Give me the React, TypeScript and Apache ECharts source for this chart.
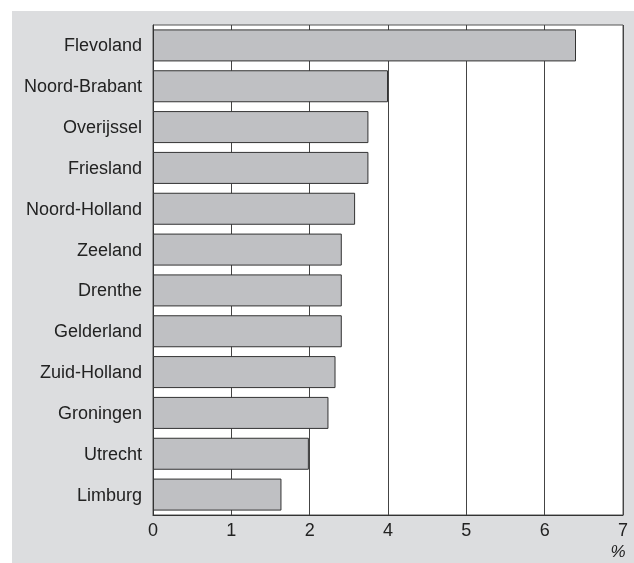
import React, { useEffect, useRef } from "react";
import * as echarts from "echarts";

// Provinces, top to bottom
const provinces = [
  "Flevoland",
  "Noord-Brabant",
  "Overijssel",
  "Friesland",
  "Noord-Holland",
  "Zeeland",
  "Drenthe",
  "Gelderland",
  "Zuid-Holland",
  "Groningen",
  "Utrecht",
  "Limburg",
];

// Bar lengths measured in axis steps (one step between neighbouring tick labels)
const barValues = [5.4, 3.0, 2.75, 2.75, 2.58, 2.41, 2.41, 2.41, 2.33, 2.24, 1.99, 1.64];

// Tick labels as printed on the reference axis (no "3" appears there)
const tickLabels = ["0", "1", "2", "4", "5", "6", "7"];

const unitLabel = "%";

export default function App() {
  const ref = useRef<HTMLDivElement>(null);

  useEffect(() => {
    if (!ref.current) return;
    const chart = echarts.init(ref.current, undefined, { renderer: "svg" });
    const font = "'Liberation Sans', Arial, Helvetica, sans-serif";
    chart.setOption({
      animation: false,
      backgroundColor: "transparent",
      textStyle: { fontFamily: font },
      graphic: [
        {
          type: "rect",
          z: -10,
          silent: true,
          shape: { x: 12, y: 11, width: 622, height: 552 },
          style: { fill: "#dcdddf" },
        },
        {
          type: "text",
          x: 618,
          y: 551,
          style: {
            text: unitLabel,
            fill: "#222",
            font: `italic 17px ${font}`,
            align: "center",
            verticalAlign: "middle",
          },
        },
      ],
      grid: {
        left: 153,
        top: 25,
        width: 470,
        height: 490,
        show: true,
        backgroundColor: "#ffffff",
        borderColor: "#555",
        borderWidth: 1,
      },
      xAxis: {
        type: "value",
        min: 0,
        max: tickLabels.length - 1,
        interval: 1,
        axisLine: { show: true, lineStyle: { color: "#333", width: 1 } },
        axisTick: { show: false },
        splitLine: { show: true, lineStyle: { color: "#444", width: 1 } },
        axisLabel: {
          margin: 6,
          color: "#222",
          fontSize: 18,
          fontFamily: font,
          formatter: (v: number) => tickLabels[Math.round(v)] ?? "",
        },
      },
      yAxis: {
        type: "category",
        data: provinces,
        inverse: true,
        axisLine: { show: true, lineStyle: { color: "#333", width: 1 } },
        axisTick: { show: false },
        axisLabel: {
          margin: 11,
          color: "#222",
          fontSize: 18,
          fontFamily: font,
        },
      },
      series: [
        {
          type: "bar",
          data: barValues,
          barWidth: 32,
          itemStyle: {
            color: "#bfc0c3",
            borderColor: "#333",
            borderWidth: 1,
          },
        },
      ],
    });
    return () => chart.dispose();
  }, []);

  return (
    <div style={{ position: "fixed", left: 0, top: 0, width: 634, height: 563 }}>
      <div ref={ref} style={{ width: 634, height: 563 }} />
    </div>
  );
}
